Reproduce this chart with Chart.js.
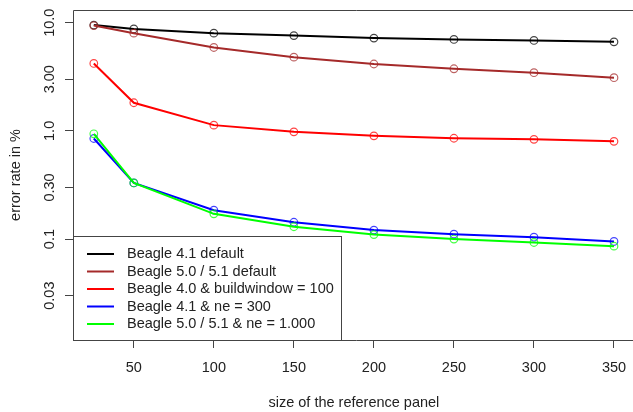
<!DOCTYPE html>
<html>
<head>
<meta charset="utf-8">
<title>Beagle error rate vs reference panel size</title>
<script src="https://cdn.jsdelivr.net/npm/chart.js@4.4.1/dist/chart.umd.min.js"></script>
<style>
  html, body { margin: 0; padding: 0; background: #fff; overflow: hidden; }
  #wrap { position: relative; width: 640px; height: 412px; }
</style>
</head>
<body>
<div id="wrap"><canvas id="errChart"></canvas></div>
<script>
/* -------------------------------------------------------
   DATA: reference panel sizes (x) and error rates in % (y)
------------------------------------------------------- */
const panelSizes = [25, 50, 100, 150, 200, 250, 300, 350];

const beagle41Default   = [9.5, 8.75, 8.0, 7.6, 7.2, 7.0, 6.85, 6.65];
const beagle50Default   = [9.4, 8.0, 5.9, 4.8, 4.15, 3.75, 3.45, 3.1];
const beagle40Window    = [4.2, 1.82, 1.13, 0.98, 0.9, 0.855, 0.835, 0.8];
const beagle41Ne300     = [0.85, 0.33, 0.185, 0.143, 0.121, 0.111, 0.104, 0.095];
const beagle50Ne1000    = [0.94, 0.33, 0.171, 0.130, 0.110, 0.100, 0.093, 0.086];

const seriesLabels = [
  "Beagle 4.1 default",
  "Beagle 5.0 / 5.1 default",
  "Beagle 4.0 & buildwindow = 100",
  "Beagle 4.1 & ne = 300",
  "Beagle 5.0 / 5.1 & ne = 1.000",
];
const seriesValues = [beagle41Default, beagle50Default, beagle40Window, beagle41Ne300, beagle50Ne1000];
const seriesColors = ["#000000", "#a52a2a", "#ff0000", "#0000ff", "#00ff00"];

/* -------------------------------------------------------
   DATA: tick labels
------------------------------------------------------- */
const xTicks = [50, 100, 150, 200, 250, 300, 350];
const yTicks = [0.03, 0.1, 0.3, 1, 3, 10];
const yTickLabels = ["0.03", "0.1", "0.30", "1.0", "3.00", "10.0"];

const FONT = "'Liberation Sans', Arial, sans-serif";
const AXIS_COLOR = "#444";
const TEXT_COLOR = "#222";

Chart.defaults.font.family = FONT;
Chart.defaults.font.size = 14.5;
Chart.defaults.color = TEXT_COLOR;

/* -------------------------------------------------------
   PLUGIN: box, rotated y labels and inset legend (R style)
------------------------------------------------------- */
const rStylePlugin = {
  id: "rStyle",
  afterDraw(chart) {
    const { ctx, chartArea: a } = chart;
    const yScale = chart.scales.y;
    ctx.save();

    // plot frame (right side is cut off by the window)
    ctx.strokeStyle = AXIS_COLOR;
    ctx.lineWidth = 1;
    ctx.beginPath();
    ctx.moveTo(a.right + 5, Math.round(a.top) + 0.5);
    ctx.lineTo(Math.round(a.left) + 0.5, Math.round(a.top) + 0.5);
    ctx.lineTo(Math.round(a.left) + 0.5, Math.round(a.bottom) + 0.5);
    ctx.lineTo(a.right + 5, Math.round(a.bottom) + 0.5);
    ctx.stroke();

    // y tick labels, read bottom to top
    ctx.fillStyle = TEXT_COLOR;
    ctx.font = "14.5px " + FONT;
    ctx.textAlign = "center";
    ctx.textBaseline = "alphabetic";
    yTicks.forEach((v, i) => {
      ctx.save();
      ctx.translate(53.5, yScale.getPixelForValue(v));
      ctx.rotate(-Math.PI / 2);
      ctx.fillText(yTickLabels[i], 0, 0);
      ctx.restore();
    });

    // legend box in the lower left corner
    const lx = Math.round(a.left) + 0.5, ly = 236.5;
    const lw = 268, lh = Math.round(a.bottom) + 0.5 - ly;
    ctx.fillStyle = "#fff";
    ctx.fillRect(lx, ly, lw, lh);
    ctx.strokeStyle = AXIS_COLOR;
    ctx.strokeRect(lx, ly, lw, lh);

    ctx.textAlign = "left";
    ctx.textBaseline = "middle";
    seriesLabels.forEach((label, i) => {
      const ry = 254 + i * 17.5;
      ctx.strokeStyle = seriesColors[i];
      ctx.lineWidth = 2;
      ctx.beginPath();
      ctx.moveTo(87, ry);
      ctx.lineTo(114, ry);
      ctx.stroke();
      ctx.fillStyle = TEXT_COLOR;
      ctx.fillText(label, 127, ry);
    });
    ctx.restore();
  },
};

/* -------------------------------------------------------
   LINE CHART
------------------------------------------------------- */
(function buildChart() {
  const ctx = document.getElementById("errChart").getContext("2d");

  const datasets = seriesLabels.map((label, i) => ({
    label: label,
    data: panelSizes.map((x, j) => ({ x: x, y: seriesValues[i][j] })),
    borderColor: seriesColors[i],
    borderWidth: 2,
    pointRadius: 3.8,
    pointBorderWidth: 1.2,
    pointBorderColor: seriesColors[i] + "bb",
    pointBackgroundColor: "rgba(0,0,0,0)",
    tension: 0,
    order: seriesLabels.length - i /* later series on top, as in R */,
  }));

  new Chart(ctx, {
    type: "line",
    data: { datasets: datasets },
    options: {
      responsive: true,
      maintainAspectRatio: false,
      animation: false,
      layout: { padding: { top: 10, right: 3, left: 0, bottom: 0 } },
      plugins: {
        legend: { display: false } /* drawn by rStylePlugin */,
        tooltip: { enabled: false },
      },
      scales: {
        x: {
          type: "linear",
          min: 12,
          max: 363,
          afterBuildTicks: (s) => { s.ticks = xTicks.map((v) => ({ value: v })); },
          afterFit: (s) => { s.height = 72; },
          border: { display: false },
          grid: { drawOnChartArea: false, drawTicks: true, tickLength: 8, color: AXIS_COLOR },
          ticks: { padding: 11, maxRotation: 0, color: TEXT_COLOR, font: { size: 14.5 } },
          title: {
            display: true,
            text: "size of the reference panel",
            color: TEXT_COLOR,
            font: { size: 14.5 },
            padding: { top: 0, bottom: 0 },
          },
        },
        y: {
          type: "logarithmic",
          min: 0.01167,
          max: 13.1,
          afterBuildTicks: (s) => { s.ticks = yTicks.map((v) => ({ value: v })); },
          afterFit: (s) => { s.width = 73; },
          border: { display: false },
          grid: { drawOnChartArea: false, drawTicks: true, tickLength: 8, color: AXIS_COLOR },
          ticks: { display: false },
          title: {
            display: true,
            text: "error rate in %",
            color: TEXT_COLOR,
            font: { size: 14.5 },
            padding: { top: 7, bottom: 0 },
          },
        },
      },
    },
    plugins: [rStylePlugin],
  });
})();
</script>
</body>
</html>
